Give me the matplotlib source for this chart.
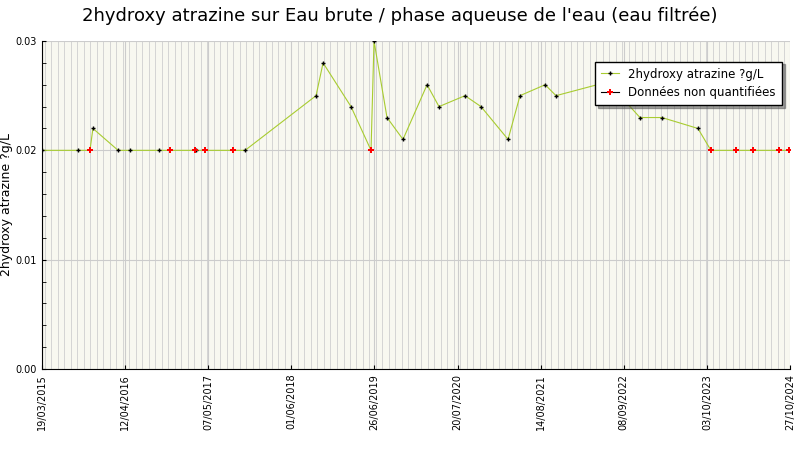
import numpy as np
import pandas as pd
import matplotlib
matplotlib.use('Agg')
import matplotlib.pyplot as plt
import matplotlib.dates as mdates

dates = ['2015-03-19', '2015-09-04', '2015-10-30', '2015-11-13', '2016-03-10', '2016-05-05',
         '2016-09-18', '2016-11-09', '2017-03-06', '2017-03-11', '2017-04-22', '2017-08-31',
         '2017-10-27', '2018-09-25', '2018-10-28', '2019-03-08', '2019-06-10', '2019-06-24',
         '2019-08-24', '2019-11-07', '2020-02-28', '2020-04-24', '2020-08-24', '2020-11-07',
         '2021-03-14', '2021-05-09', '2021-09-04', '2021-10-25', '2022-05-06', '2022-08-22',
         '2022-11-23', '2023-03-06', '2023-08-22', '2023-10-22', '2024-02-16', '2024-05-06',
         '2024-09-06', '2024-10-23']
values = [0.020, 0.020, 0.020, 0.022, 0.020, 0.020,
          0.020, 0.020, 0.020, 0.020, 0.020, 0.020,
          0.020, 0.025, 0.028, 0.024, 0.020, 0.030,
          0.023, 0.021, 0.026, 0.024, 0.025, 0.024,
          0.021, 0.025, 0.026, 0.025, 0.026, 0.025,
          0.023, 0.023, 0.022, 0.020, 0.020, 0.020,
          0.020, 0.020]
nonQuantified = [False, False, True, False, False, False,
                 False, True, True, False, True, True,
                 False, False, False, False, True, False,
                 False, False, False, False, False, False,
                 False, False, False, False, False, False,
                 False, False, False, True, True, True,
                 True, True]
tickDates = ['2015-03-19', '2016-04-12', '2017-05-07', '2018-06-01', '2019-06-26', '2020-07-20',
             '2021-08-14', '2022-09-08', '2023-10-03', '2024-10-27']

x = pd.to_datetime(dates)
values = np.array(values)
nq = np.array(nonQuantified)
ticks = pd.to_datetime(tickDates)

fig = plt.figure(figsize=(8, 4.5), dpi=100)
ax = fig.add_axes([42 / 800, 81 / 450, 748 / 800, 328 / 450])
ax.set_facecolor('#f8f8f0')

ax.plot(x, values, color='#a8cc30', linewidth=0.8, zorder=3)
ax.plot(x[~nq], values[~nq], linestyle='none', marker='+', color='black', markersize=3, markeredgewidth=1, zorder=4)
ax.plot(x[nq], values[nq], linestyle='none', marker='P', color='red', markersize=4, markeredgewidth=0, zorder=4)
# legend handles with line through them
h1, = ax.plot([], [], color='#a8cc30', linewidth=0.8, marker='+', markeredgecolor='black', markersize=3)
h2, = ax.plot([], [], color='black', linewidth=0.8, marker='P', markeredgewidth=0, markerfacecolor='red', markersize=5)

ax.set_xlim(ticks[0], ticks[-1])
ax.set_ylim(0, 0.03)
ax.set_xticks(ticks)
ax.set_xticklabels([d.strftime('%d/%m/%Y') for d in ticks], rotation=90, fontsize=7)
ax.xaxis.set_minor_locator(mdates.MonthLocator())
ax.set_yticks([0, 0.01, 0.02, 0.03])
ax.set_yticklabels(['0.00', '0.01', '0.02', '0.03'], fontsize=7)
ax.set_yticks(np.arange(0, 0.0301, 0.002), minor=True)
ax.grid(True, which='minor', axis='x', color='#d4d4d4', linewidth=0.7)
ax.grid(True, which='major', axis='both', color='#cccccc', linewidth=0.8)
ax.tick_params(which='both', direction='in', length=3)
ax.tick_params(axis='x', which='minor', length=0)
for s in ax.spines.values():
    s.set_visible(False)
ax.spines['left'].set_visible(True)
ax.spines['bottom'].set_visible(True)

ax.set_ylabel('2hydroxy atrazine ?g/L', fontsize=9, labelpad=2)
fig.suptitle("2hydroxy atrazine sur Eau brute / phase aqueuse de l'eau (eau filtrée)", fontsize=13, y=0.985)

leg = ax.legend([h1, h2], ['2hydroxy atrazine ?g/L', 'Données non quantifiées'], loc='upper right',
                bbox_to_anchor=(0.997, 0.955), fontsize=8.5, fancybox=False, shadow=True,
                framealpha=1, edgecolor='black', borderpad=0.5, handlelength=1.5)
leg.get_frame().set_linewidth(1)

fig.savefig('out.png', dpi=100)
